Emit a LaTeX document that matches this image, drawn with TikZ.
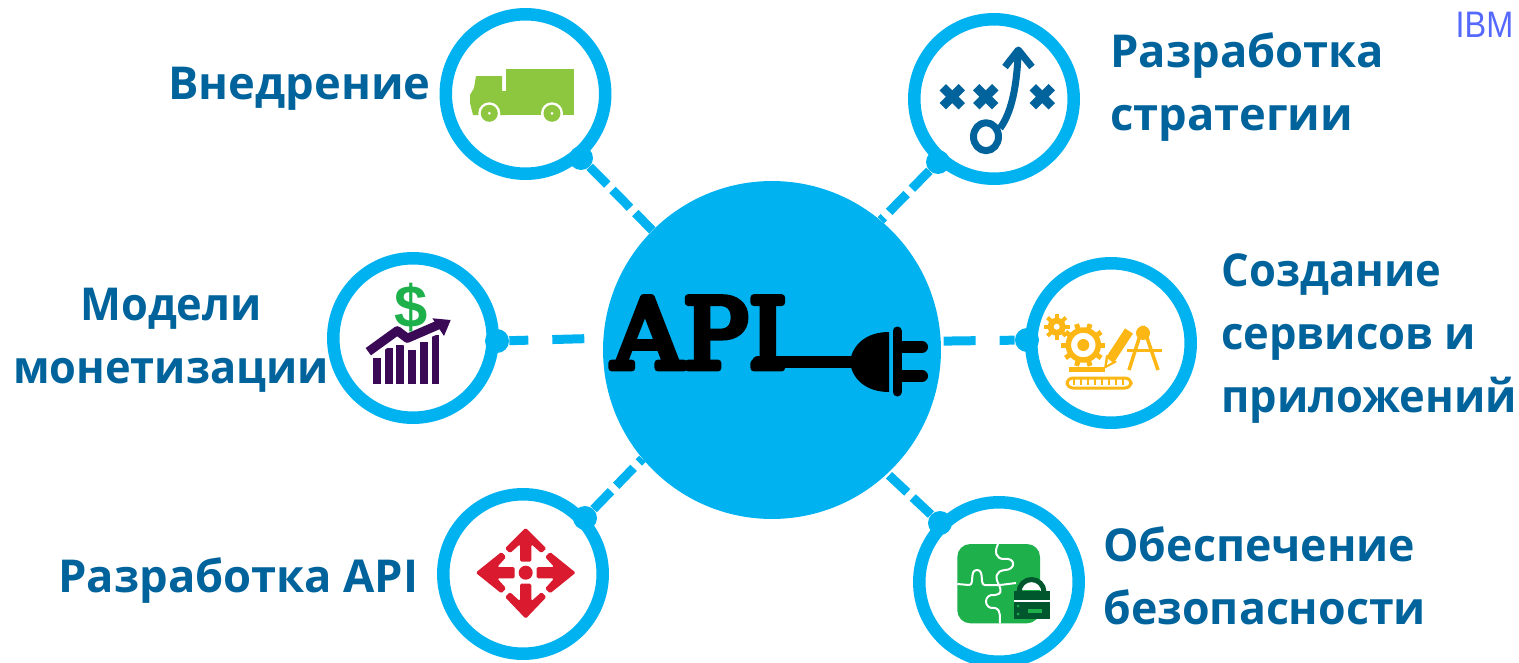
\documentclass[tikz,border=0pt]{standalone}
\usepackage{fontspec}
\setmainfont{Open Sans}
\newfontfamily\slabfont[FakeBold=7]{DejaVu Serif}
\newfontfamily\logofont{Liberation Sans}
\definecolor{skyblue}{RGB}{0,178,240}
\definecolor{labelblue}{RGB}{0,99,155}
\definecolor{truckgreen}{RGB}{141,198,63}
\definecolor{leafgreen}{RGB}{29,176,75}
\definecolor{lockgreen}{RGB}{0,86,45}
\definecolor{plum}{RGB}{59,10,87}
\definecolor{amber}{RGB}{253,183,20}
\definecolor{signred}{RGB}{218,26,46}
\definecolor{logoblue}{RGB}{85,105,255}
\begin{document}
\begin{tikzpicture}[line cap=butt,line join=round,x=0.02cm,y=-0.02cm,
    bubble/.style={circle, draw=skyblue, line width=0.25cm, fill=white, minimum size=3.19cm, inner sep=0pt},
    knob/.style={circle, fill=skyblue, minimum size=0.48cm, inner sep=0pt},
    link/.style={draw=skyblue, line width=0.18cm, dash pattern=on 0.5cm off 0.15cm},
    longlink/.style={draw=skyblue, line width=0.18cm, dash pattern=on 0.64cm off 0.48cm},
    caption/.style={font=\fontsize{25.8}{35.8}\selectfont\bfseries, text=labelblue, inner sep=0pt}]
    \clip (0,0) rectangle (1519,663);

    \node [circle, fill=skyblue, minimum size=6.76cm, inner sep=0pt] (hub) at (772,350) {};

    \node [bubble] (ship) at (525.5,94) {};
    \node [bubble] (plan) at (994,99) {};
    \node [bubble] (money) at (413,338) {};
    \node [bubble] (build) at (1111,343) {};
    \node [bubble] (design) at (523,574) {};
    \node [bubble] (secure) at (999,582) {};

    \node [knob] (shipknob) at (581,158) {};
    \node [knob] (planknob) at (938,162) {};
    \node [knob] (moneyknob) at (497,341) {};
    \node [knob] (buildknob) at (1027,340) {};
    \node [knob] (designknob) at (585,518) {};
    \node [knob] (secureknob) at (940,523) {};

    \draw [link] (shipknob) -- (hub.135);
    \draw [link] (planknob) -- (hub.50.4);
    \draw [longlink, dash phase=0.26cm] (moneyknob) -- (hub.176.9);
    \draw [longlink, dash phase=0.34cm] (buildknob) -- (hub.3.4);
    \draw [link] (designknob) -- (hub.220.6);
    \draw [link] (secureknob) -- (hub.313.3);

    % labels
    \node [caption, anchor=west] (shiptext) at (168,89) {Внедрение};
    \node [caption, anchor=west, align=left] (plantext) at (1110,87) {Разработка\\стратегии};
    \node [caption, align=center, xscale=0.957] (moneytext) at (171,340) {Модели\\монетизации};
    \node [caption, anchor=west, align=left, xscale=0.96] (buildtext) at (1221,338.5) {Создание\\сервисов и\\приложений};
    \node [caption, anchor=west] (designtext) at (58,581) {Разработка API};
    \node [caption, anchor=west, align=left, xscale=0.985] (securetext) at (1103,576) {Обеспечение\\безопасности};
    \node [font=\logofont\fontsize{21}{21}\selectfont, text=logoblue, xscale=0.88, inner sep=0pt] (logo) at (1484.5,25) {IBM};

    % API plug
    \node [font=\slabfont\fontsize{55}{55}\selectfont, xscale=1.01, inner sep=0pt, anchor=base west] (apitext) at (612,368) {API};
    \draw [line width=0.24cm, line cap=round] (758,362) -- (860,362);
    \fill (889,332) .. controls (866,332) and (852,345) .. (850,362) .. controls (852,379) and (866,392) .. (889,392) -- cycle;
    \draw [line width=0.18cm, line cap=round] (897,331) -- (897,392);
    \draw [line width=0.24cm, line cap=round] (900,347) -- (922,347);
    \draw [line width=0.24cm, line cap=round] (900,376) -- (922,376);

    % truck
    \fill [truckgreen] (506,69) rectangle (574,115);
    \fill [truckgreen] (473,115) -- (470,103) -- (470,95) -- (474,88) -- (476,76) -- (502,76) -- (502,91) -- (507,91) -- (507,115) -- cycle;
    \foreach \x in {489.3,552} {
        \fill [white] (\x,113.3) circle [radius=0.22cm];
        \fill [truckgreen] (\x,113.3) circle [radius=0.17cm];
        \fill [white] (\x,113.3) circle [radius=0.03cm];
    }

    % playbook
    \foreach \x in {952.3,985.7,1042.3} {
        \draw [labelblue, line width=0.18cm] (\x-9.5,87.2) -- (\x+9.5,106.2);
        \draw [labelblue, line width=0.18cm] (\x+9.5,87.2) -- (\x-9.5,106.2);
    }
    \draw [labelblue, line width=0.14cm] (986,136.7) ellipse [x radius=0.25cm, y radius=0.28cm];
    \draw [labelblue, line width=0.14cm] (1000,128.3) .. controls (1012,112) and (1017,85) .. (1018.3,50);
    \draw [labelblue, line width=0.14cm] (1005,67) -- (1018.3,50) -- (1032,67);

    % chart
    \fill [plum] (372.7,358.3) rectangle (381,384);
    \fill [plum] (385,348.3) rectangle (392.7,384);
    \fill [plum] (396,345) rectangle (404.3,384);
    \fill [plum] (408,350) rectangle (416,384);
    \fill [plum] (420,341.7) rectangle (428,384);
    \fill [plum] (431.7,335) rectangle (439.3,384);
    \draw [white, line width=0.28cm] (368.3,353) -- (397.3,332) -- (407.3,339.5) -- (436.7,327);
    \draw [plum, line width=0.18cm] (368.3,351.7) -- (397.3,330.7) -- (407.3,338.3) -- (438,325);
    \fill [plum] (432.3,318.3) -- (450.7,320) -- (444,336) -- cycle;
    \node [font=\logofont\bfseries\fontsize{34}{34}\selectfont, text=leafgreen, inner sep=0pt] (dollar) at (410.7,307.7) {\$};

    % tools
    \begin{scope}[amber]
        \fill (1056.7,326.7) circle [radius=0.18cm];
        \fill [white] (1056.7,326.7) circle [radius=0.06cm];
        \foreach \a in {0,45,...,315}
            \draw [line width=0.08cm] (1056.7,326.7) ++(\a:0.14cm) -- ++(\a:0.12cm);
        \draw [line width=0.11cm] (1083.3,345) circle [radius=0.3cm];
        \fill (1083.3,345) circle [radius=0.12cm];
        \foreach \a in {0,36,...,324}
            \draw [line width=0.1cm] (1083.3,345) ++(\a:0.34cm) -- ++(\a:0.1cm);
        \draw [line width=0.19cm] (1110,360) -- (1129,331);
        \fill (1104,369) -- (1106,355) -- (1117,362) -- cycle;
        \fill [white] (1107,365) -- (1108,359) -- (1112,362) -- cycle;
        \draw [line width=0.07cm] (1143,326) -- (1129,370);
        \draw [line width=0.07cm] (1143,326) -- (1158,370);
        \draw [line width=0.06cm] (1127,350) -- (1162,350);
        \fill (1143,333) circle [radius=0.14cm];
        \draw [line width=0.1cm] (1069,369) -- (1105,369);
        \draw [line width=0.06cm, rounded corners=0.12cm] (1067,378) rectangle (1131,388);
        \foreach \x in {1074,1081,...,1125}
            \draw [line width=0.04cm] (\x,379) -- (\x,385);
    \end{scope}

    % four arrows
    \fill [signred] (525.7,572.7) circle [radius=0.14cm];
    \foreach \a/\t in {0/45,90/50,180/46,270/50} {
        \begin{scope}[shift={(525.7,572.7)}, rotate=\a]
            \fill [signred, rounded corners=0.03cm] (0,-\t) -- (-20.7,-24.3) -- (-15.7,-19.5) -- (-5.7,-28.5) -- (-5.7,-11) -- (5.7,-11) -- (5.7,-28.5) -- (15.7,-19.5) -- (20.7,-24.3) -- cycle;
        \end{scope}
    }

    % puzzle and lock
    \fill [leafgreen, rounded corners=0.26cm] (957.3,544) rectangle (1040,623.3);
    \draw [white, line width=0.04cm] (998,544) .. controls (994,552) and (996,559) .. (1004,559) .. controls (1016,557) and (1016,570) .. (1005,570) .. controls (995,571) and (995,578) .. (999,585) .. controls (1002,592) and (1001,594) .. (995,595) .. controls (983,593) and (983,610) .. (995,608) .. controls (1002,610) and (999,618) .. (1000,623.3);
    \draw [white, line width=0.04cm] (957.3,584) -- (969,585) .. controls (975,585) and (969,570) .. (977,570) .. controls (985,570) and (979,585) .. (985,585) -- (1000,585) -- (1016,583);
    \fill [white] (1022,590) rectangle (1041,582);
    \draw [lockgreen, line width=0.1cm] (1019,592) arc [start angle=180, end angle=0, radius=0.25cm];
    \fill [white] (1014,600) rectangle (1050,602);
    \fill [lockgreen] (1014,591) rectangle (1050,600);
    \fill [lockgreen] (1014,602) rectangle (1050,619.3);
    \fill [leafgreen] (1028,609) rectangle (1042,612.5);
    \fill [leafgreen] (1018,606) circle [radius=0.03cm];
    \fill [leafgreen] (1018,614) circle [radius=0.03cm];
\end{tikzpicture}
\end{document}
